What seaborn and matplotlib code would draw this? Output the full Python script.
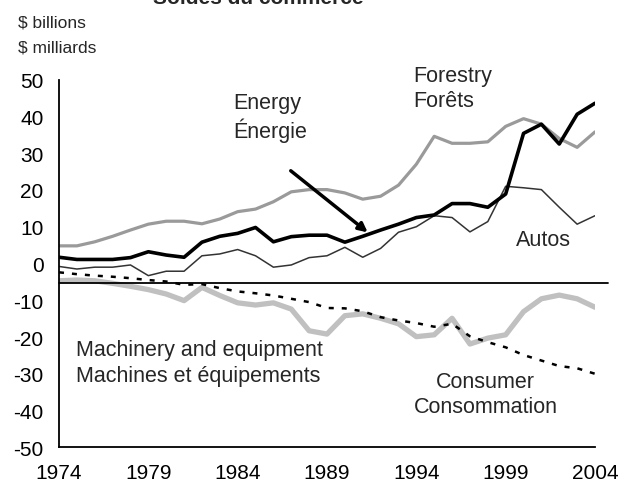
import matplotlib
matplotlib.use("Agg")
import matplotlib.pyplot as plt
import seaborn as sns
import pandas as pd

years = list(range(1974, 2005))
forestry = [4.8, 4.8, 5.9, 7.4, 9.1, 10.7, 11.5, 11.5, 10.8, 12.1, 14.1, 14.8, 16.8, 19.5, 20.1, 20.1,
            19.2, 17.5, 18.3, 21.3, 27.0, 34.6, 32.7, 32.7, 33.1, 37.3, 39.4, 37.9, 34.0, 31.6, 35.8]
energy = [1.7, 1.1, 1.1, 1.1, 1.6, 3.2, 2.3, 1.7, 5.8, 7.4, 8.2, 9.8, 5.9, 7.3, 7.7, 7.7,
          5.8, 7.4, 9.1, 10.7, 12.5, 13.2, 16.3, 16.3, 15.3, 18.9, 35.4, 37.9, 32.5, 40.6, 43.6]
autos = [-0.8, -1.5, -1.0, -1.0, -0.4, -3.3, -2.1, -2.1, 2.1, 2.6, 3.8, 2.1, -1.0, -0.4, 1.6, 2.1,
         4.4, 1.7, 4.1, 8.5, 10.0, 13.0, 12.5, 8.6, 11.4, 21.0, 20.6, 20.1, 15.3, 10.7, 13.0]
machinery = [-2.4, -2.9, -3.3, -3.6, -4.0, -4.5, -4.9, -5.8, -5.6, -6.7, -7.6, -8.1, -8.7, -9.6, -10.5, -12.1,
             -12.2, -13.0, -14.6, -15.5, -16.2, -17.2, -16.4, -19.8, -21.4, -22.8, -24.9, -26.4, -27.9, -28.5, -30.0]
consumer = [-4.7, -4.5, -4.7, -5.4, -6.2, -7.1, -8.3, -10.1, -6.5, -8.7, -10.7, -11.3, -10.7, -12.4, -18.3, -19.2,
            -14.2, -13.7, -14.9, -16.4, -19.9, -19.4, -14.9, -21.9, -20.3, -19.4, -13.1, -9.6, -8.6, -9.6, -11.9]
xtick_labels = [1974, 1979, 1984, 1989, 1994, 1999, 2004]
yticks = list(range(-50, 51, 10))

df = pd.DataFrame({"year": years, "Forestry": forestry, "Energy": energy, "Autos": autos,
                   "Machinery": machinery, "Consumer": consumer})

sns.set_style("white")
plt.rcParams["font.family"] = ["Liberation Sans", "DejaVu Sans"]

fig = plt.figure(figsize=(6.23, 4.85), dpi=100)
ax = fig.add_axes([59 / 623, 1 - 448.3 / 485, (595 - 59) / 623, (448.3 - 80.7) / 485])

sns.lineplot(data=df, x="year", y="Consumer", ax=ax, color="#c0c0c0", lw=3.8)
sns.lineplot(data=df, x="year", y="Forestry", ax=ax, color="#9a9a9a", lw=2.3)
sns.lineplot(data=df, x="year", y="Autos", ax=ax, color="#333333", lw=1.1)
sns.lineplot(data=df, x="year", y="Machinery", ax=ax, color="black", lw=1.8,
             linestyle=(0, (2.0, 3.2)))
sns.lineplot(data=df, x="year", y="Energy", ax=ax, color="black", lw=2.6)

ax.plot([1974, 2004.7], [-5.4, -5.4], color="black", lw=1.3, clip_on=False)

ax.set_xlim(1974, 2004)
ax.set_ylim(-50, 50)
ax.set_xticks(years, minor=True)
ax.set_xticks(xtick_labels)
ax.set_xticklabels([str(y) for y in xtick_labels])
ax.set_yticks(yticks)
ax.set_yticklabels([str(y) for y in yticks])
ax.tick_params(axis="both", which="both", direction="in", width=1.2, color="black",
               labelsize=15, labelcolor="black")
ax.tick_params(axis="x", which="both", length=3.2, pad=11.5)
ax.tick_params(axis="y", length=4.5, pad=11)
ax.set_xlabel("")
ax.set_ylabel("")
for s in ["top", "right"]:
    ax.spines[s].set_visible(False)
for s in ["left", "bottom"]:
    ax.spines[s].set_color("black")
    ax.spines[s].set_linewidth(1.3)

ax.annotate("", xy=(1991.4, 8.0), xytext=(1986.85, 25.7),
            arrowprops=dict(arrowstyle="-|>", color="black", lw=2.5, mutation_scale=13))

fs = 15.5
ax.text(1983.73, 39.8, "Energy\nÉnergie", fontsize=fs, ha="left", va="center", linespacing=1.25)
ax.text(1993.8, 47.8, "Forestry\nForêts", fontsize=fs, ha="left", va="center", linespacing=1.25)
ax.text(1999.6, 6.6, "Autos", fontsize=fs, ha="left", va="center")
ax.text(1974.95, -27.0, "Machinery and equipment\nMachines et équipements", fontsize=fs,
        ha="left", va="center", linespacing=1.3)
ax.text(1997.88, -35.5, "Consumer\nConsommation", fontsize=fs, ha="center", va="center", linespacing=1.3)

fig.text(18 / 623, 1 - 23 / 485, "$ billions", fontsize=12.5, ha="left", va="center")
fig.text(18 / 623, 1 - 48 / 485, "$ milliards", fontsize=12.5, ha="left", va="center")
fig.text(258 / 623, 1 - 4 / 485, "Soldes du commerce", fontsize=15, fontweight="bold",
         ha="center", va="baseline")

fig.savefig("out.png", dpi=100)
